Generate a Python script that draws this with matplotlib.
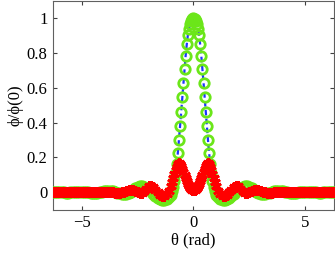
import numpy as np
import matplotlib
matplotlib.use("Agg")
import matplotlib.pyplot as plt

plt.rcParams["font.family"] = ["Liberation Serif", "DejaVu Serif"]

# ---------------------------------------------------------------------------
# Data
# ---------------------------------------------------------------------------
# sampling grid: 0.1 rad in the tails, 0.05 rad around the main lobe
theta_left = np.round(np.arange(-6.3, -1.05, 0.1), 2)
theta_mid = np.round(np.arange(-1.0, 1.001, 0.05), 2)
theta_right = np.round(np.arange(1.1, 6.35, 0.1), 2)

# green circles / blue dashed curve: phi / phi(0)
green_left = [
    0.000, 0.001, 0.001, 0.001, 0.000, -0.001, -0.002, -0.002, -0.001, 0.000,
    0.001, 0.002, 0.003, 0.003, 0.002, 0.001, -0.001, -0.003, -0.004, -0.004,
    -0.003, -0.001, 0.001, 0.004, 0.006, 0.007, 0.006, 0.004, 0.001, -0.003,
    -0.007, -0.010, -0.010, -0.008, -0.004, 0.003, 0.012, 0.022, 0.030, 0.035,
    0.035, 0.031, 0.024, 0.015, 0.004, -0.009, -0.022, -0.034, -0.042, -0.046,
    -0.045, -0.040, -0.030,
]
green_mid = [
    -0.016, 0.004, 0.031, 0.066, 0.110, 0.162, 0.225, 0.298, 0.378, 0.460,
    0.545, 0.630, 0.710, 0.785, 0.850, 0.905, 0.940, 0.965, 0.984, 0.996,
    1.000,
    0.996, 0.984, 0.965, 0.940, 0.905, 0.850, 0.785, 0.710, 0.630, 0.545,
    0.460, 0.378, 0.298, 0.225, 0.162, 0.110, 0.066, 0.031, 0.004, -0.016,
]
green_right = [
    -0.030, -0.040, -0.045, -0.046, -0.042, -0.034, -0.022, -0.009, 0.004, 0.015,
    0.024, 0.031, 0.035, 0.035, 0.030, 0.022, 0.012, 0.003, -0.004, -0.008,
    -0.010, -0.010, -0.007, -0.003, 0.001, 0.004, 0.006, 0.007, 0.006, 0.004,
    0.001, -0.001, -0.003, -0.004, -0.004, -0.003, -0.001, 0.001, 0.002, 0.003,
    0.003, 0.002, 0.001, 0.000, -0.001, -0.002, -0.002, -0.001, 0.000, 0.001,
    0.001, 0.001, 0.000,
]

# red asterisks
red_left = [
    0.000, 0.000, 0.000, 0.000, 0.000, 0.001, 0.001, 0.000, 0.000, -0.001,
    -0.001, 0.000, 0.000, 0.000, 0.001, 0.001, 0.001, 0.000, -0.001, -0.001,
    -0.001, 0.000, 0.001, 0.002, 0.003, 0.003, 0.002, 0.000, -0.002, -0.003,
    -0.002, 0.000, 0.003, 0.007, 0.011, 0.013, 0.011, 0.006, 0.000, -0.004,
    -0.002, 0.007, 0.021, 0.033, 0.037, 0.030, 0.015, -0.001, -0.014, -0.022,
    -0.022, -0.013, 0.004,
]
red_mid = [
    0.036, 0.058, 0.081, 0.104, 0.126, 0.146, 0.161, 0.168, 0.164, 0.152,
    0.136, 0.118, 0.099, 0.080, 0.063, 0.048, 0.035, 0.024, 0.016, 0.012,
    0.010,
    0.012, 0.016, 0.024, 0.035, 0.048, 0.063, 0.080, 0.099, 0.118, 0.136,
    0.152, 0.164, 0.168, 0.161, 0.146, 0.126, 0.104, 0.081, 0.058, 0.036,
]
red_right = [
    0.004, -0.013, -0.022, -0.022, -0.014, -0.001, 0.015, 0.030, 0.037, 0.033,
    0.021, 0.007, -0.002, -0.004, 0.000, 0.006, 0.011, 0.013, 0.011, 0.007,
    0.003, 0.000, -0.002, -0.003, -0.002, 0.000, 0.002, 0.003, 0.003, 0.002,
    0.001, 0.000, -0.001, -0.001, -0.001, 0.000, 0.001, 0.001, 0.001, 0.000,
    0.000, 0.000, -0.001, -0.001, 0.000, 0.000, 0.001, 0.001, 0.000, 0.000,
    0.000, 0.000, 0.000,
]

x_ticks = [-5, 0, 5]
x_tick_labels = ["\u22125", "0", "5"]
y_ticks = [0, 0.2, 0.4, 0.6, 0.8, 1]
y_tick_labels = ["0", "0.2", "0.4", "0.6", "0.8", "1"]

theta = np.concatenate([theta_left, theta_mid, theta_right])
green = np.concatenate([green_left, green_mid, green_right])
red = np.concatenate([red_left, red_mid, red_right])

# ---------------------------------------------------------------------------
# Plot
# ---------------------------------------------------------------------------
fig = plt.figure(figsize=(3.35, 2.54), dpi=100)
ax = fig.add_axes([0.158, 0.175, 0.839, 0.821])

ax.plot(theta, green, color="#1a33ff", lw=1.6, dashes=(2.5, 1.5), zorder=2)
ax.plot(theta, green, ls="none", marker="o", ms=6.8, mew=2.0,
        mfc="none", mec="#6be619", zorder=3)
ax.plot(theta, red, ls="none", marker=(6, 2, 0), ms=7.5, mew=2.0,
        mec="#ff0000", zorder=4)

ax.set_xlim(-2 * np.pi, 2 * np.pi)
ax.set_ylim(-0.1, 1.1)
ax.set_xticks(x_ticks, x_tick_labels)
ax.set_yticks(y_ticks, y_tick_labels)
ax.tick_params(direction="in", length=3, width=0.8, color="#404040",
               labelsize=12, top=True, right=True, pad=4)
for s in ax.spines.values():
    s.set_color("#606060")
    s.set_linewidth(0.8)

ax.set_xlabel("\u03b8 (rad)", fontsize=12, labelpad=1)
ax.set_ylabel("\u03d5/\u03d5(0)", fontsize=12, labelpad=2)

fig.savefig("out.png", dpi=100)
plt.close(fig)
